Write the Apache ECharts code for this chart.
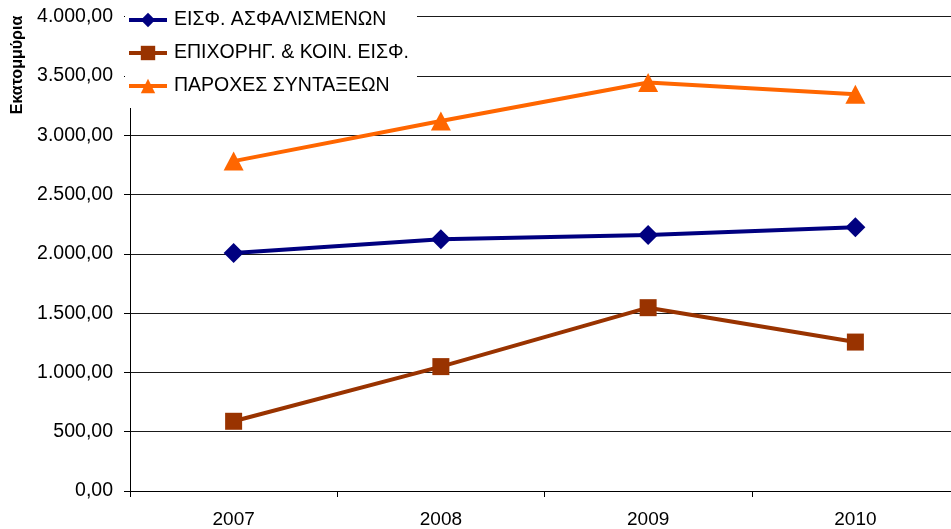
<!DOCTYPE html>
<html>
<head>
<meta charset="utf-8">
<script src="https://cdn.jsdelivr.net/npm/echarts@6/dist/echarts.min.js"></script>
<style>
html,body{margin:0;padding:0;background:#fff;}
#chart{width:951px;height:529px;}
</style>
</head>
<body>
<div id="chart"></div>
<script>
const years = ['2007', '2008', '2009', '2010'];
const seriesNames = ['ΕΙΣΦ. ΑΣΦΑΛΙΣΜΕΝΩΝ', 'ΕΠΙΧΟΡΗΓ. & ΚΟΙΝ. ΕΙΣΦ.', 'ΠΑΡΟΧΕΣ ΣΥΝΤΑΞΕΩΝ'];
const contributions = [2008, 2124, 2160, 2225];
const subsidies = [588, 1049, 1546, 1256];
const pensions = [2782, 3121, 3445, 3346];
const yAxisTitle = 'Εκατομμύρια';
const yMin = 0, yMax = 4000, yStep = 500;

function fmt(v) {
  const fixed = Number(v).toFixed(2);
  const parts = fixed.split('.');
  const intPart = parts[0].replace(/\B(?=(\d{3})+(?!\d))/g, '.');
  return intPart + ',' + parts[1];
}

const font = "'Liberation Sans', Arial, sans-serif";
const chart = echarts.init(document.getElementById('chart'), null, {renderer: 'canvas'});
chart.setOption({
  animation: false,
  backgroundColor: '#fff',
  textStyle: {fontFamily: font},
  grid: {left: 130, top: 16.7, width: 829, height: 474.3, containLabel: false, outerBoundsMode: 'none'},
  legend: {
    orient: 'vertical',
    left: 125,
    top: 0,
    padding: [10, 8, 12, 2],
    backgroundColor: '#fff',
    itemWidth: 38,
    itemHeight: 18,
    itemGap: 13,
    lineStyle: {width: 4},
    textStyle: {fontFamily: font, fontSize: 19.5, color: '#000', padding: [0, 0, 0, 2]},
    data: seriesNames,
    z: 10
  },
  xAxis: {
    type: 'category',
    data: years,
    boundaryGap: true,
    axisLine: {lineStyle: {color: '#000', width: 1}},
    axisTick: {show: true, length: 6, inside: false, lineStyle: {color: '#000'}},
    axisLabel: {color: '#000', fontSize: 19, fontFamily: font, margin: 19},
    splitLine: {show: false}
  },
  yAxis: {
    type: 'value',
    min: yMin, max: yMax, interval: yStep,
    axisLine: {show: true, lineStyle: {color: '#000', width: 1}},
    axisTick: {show: true, length: 6, lineStyle: {color: '#000'}},
    axisLabel: {color: '#000', fontSize: 19.5, fontFamily: font, margin: 17, formatter: fmt},
    splitLine: {show: true, lineStyle: {color: '#1a1a1a', width: 1}}
  },
  graphic: [{
    type: 'text',
    x: 18, y: 65,
    rotation: Math.PI / 2,
    style: {
      text: yAxisTitle,
      font: "bold 16px 'Liberation Sans', Arial, sans-serif",
      fill: '#000',
      textAlign: 'center',
      textVerticalAlign: 'middle'
    }
  }],
  series: [
    {
      name: seriesNames[0], type: 'line', data: contributions,
      symbol: 'diamond', symbolSize: [20, 20],
      lineStyle: {color: '#000080', width: 4},
      itemStyle: {color: '#000080'}
    },
    {
      name: seriesNames[1], type: 'line', data: subsidies,
      symbol: 'rect', symbolSize: 17,
      lineStyle: {color: '#993300', width: 4},
      itemStyle: {color: '#993300'}
    },
    {
      name: seriesNames[2], type: 'line', data: pensions,
      symbol: 'triangle', symbolSize: [20, 19],
      lineStyle: {color: '#FF6600', width: 4},
      itemStyle: {color: '#FF6600'}
    }
  ]
});
</script>
</body>
</html>
